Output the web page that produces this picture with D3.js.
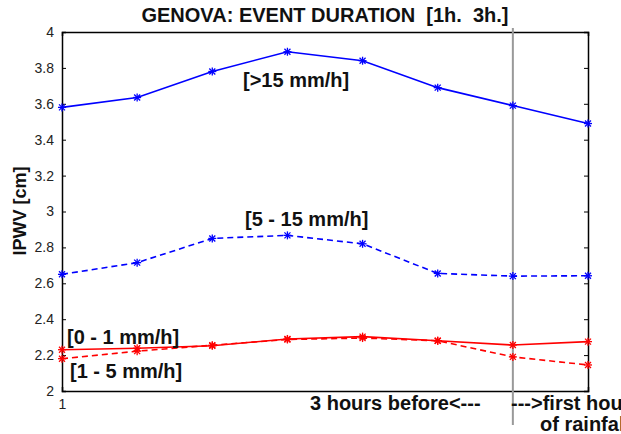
<!DOCTYPE html>
<html>
<head>
<meta charset="utf-8">
<script src="https://cdn.jsdelivr.net/npm/d3@7"></script>
<style>
  body { margin: 0; background: #fff; }
  svg { font-family: "Liberation Sans", Arial, sans-serif; }
  .ann { font-weight: bold; font-size: 20px; fill: #111; white-space: pre; }
  .axis text { font-size: 14px; fill: #222; }
</style>
</head>
<body>
<div id="chart"></div>
<script>
const steps = [1, 2, 3, 4, 5, 6, 7, 8];
const heavy = [3.58, 3.635, 3.78, 3.89, 3.84, 3.69, 3.59, 3.49];      // [>15 mm/h]
const moderate = [2.65, 2.715, 2.85, 2.867, 2.82, 2.655, 2.64, 2.642]; // [5 - 15 mm/h]
const light = [2.23, 2.238, 2.252, 2.29, 2.303, 2.28, 2.256, 2.275];  // [0 - 1 mm/h]
const weak = [2.18, 2.222, 2.255, 2.287, 2.295, 2.28, 2.19, 2.145];   // [1 - 5 mm/h]
const yTicks = [2, 2.2, 2.4, 2.6, 2.8, 3, 3.2, 3.4, 3.6, 3.8, 4];
const xTicks = [1];
const rainStart = 7;

const width = 621, height = 434;
const margin = {top: 32, right: 33, bottom: 43, left: 62};
const w = width - margin.left - margin.right;
const h = height - margin.top - margin.bottom;

const svg = d3.select("#chart").append("svg")
    .attr("width", width)
    .attr("height", height);

const g = svg.append("g")
    .attr("transform", `translate(${margin.left}, ${margin.top})`);

const x = d3.scaleLinear().domain([1, 8]).range([0, w]);
const y = d3.scaleLinear().domain([2, 4]).range([h, 0]);

// box with inward ticks (matlab style)
g.append("g").attr("class", "axis")
    .call(d3.axisLeft(y).tickValues(yTicks).tickSize(-4).tickPadding(8).tickFormat(d3.format("~g")))
    .call(s => s.select(".domain").attr("stroke-width", 1.5));
g.append("g").attr("class", "axis")
    .attr("transform", `translate(${w}, 0)`)
    .call(d3.axisRight(y).tickValues(yTicks).tickSize(-4).tickFormat(""))
    .call(s => s.select(".domain").attr("stroke-width", 1.5));
g.append("g").attr("class", "axis")
    .attr("transform", `translate(0, ${h})`)
    .call(d3.axisBottom(x).tickValues(xTicks).tickSize(-4).tickPadding(8).tickFormat(d3.format("d")))
    .call(s => s.select(".domain").attr("stroke-width", 1.5));
g.append("g").attr("class", "axis")
    .call(d3.axisTop(x).tickValues(xTicks).tickSize(-4).tickFormat(""))
    .call(s => s.select(".domain").attr("stroke-width", 1.5));

// start of rainfall marker
g.append("line")
    .attr("x1", x(rainStart)).attr("x2", x(rainStart))
    .attr("y1", -4).attr("y2", h + 34)
    .attr("stroke", "#999")
    .attr("stroke-width", 2);

const series = [
    {values: heavy, color: "#0000ff", dash: null},
    {values: moderate, color: "#0000ff", dash: "6,4"},
    {values: light, color: "#ff0000", dash: null},
    {values: weak, color: "#ff0000", dash: "6,4"}
];

const line = d3.line()
    .x((d, i) => x(steps[i]))
    .y(d => y(d));

series.forEach(function(s) {
    g.append("path")
        .datum(s.values)
        .attr("d", line)
        .attr("fill", "none")
        .attr("stroke", s.color)
        .attr("stroke-width", 1.6)
        .attr("stroke-dasharray", s.dash);

    // asterisk markers
    const r = 4;
    const mk = g.selectAll(null)
        .data(s.values)
        .enter()
        .append("g")
        .attr("transform", (d, i) => `translate(${x(steps[i])}, ${y(d)})`)
        .attr("stroke", s.color)
        .attr("stroke-width", 1.3);
    mk.append("line").attr("x1", -r).attr("x2", r).attr("y1", 0).attr("y2", 0);
    mk.append("line").attr("x1", 0).attr("x2", 0).attr("y1", -r).attr("y2", r);
    mk.append("line").attr("x1", -r * 0.75).attr("x2", r * 0.75).attr("y1", -r * 0.75).attr("y2", r * 0.75);
    mk.append("line").attr("x1", -r * 0.75).attr("x2", r * 0.75).attr("y1", r * 0.75).attr("y2", -r * 0.75);
});

// title
svg.append("text")
    .attr("class", "ann")
    .attr("x", 325).attr("y", 22)
    .attr("text-anchor", "middle")
    .text("GENOVA: EVENT DURATION  [1h.  3h.]");

// y label
svg.append("text")
    .attr("class", "ann")
    .style("font-size", "18px")
    .attr("transform", "translate(26, 211) rotate(-90)")
    .attr("text-anchor", "middle")
    .text("IPWV [cm]");

// series labels
const labels = [
    {t: "[>15 mm/h]", x: 243, y: 87},
    {t: "[5 - 15 mm/h]", x: 245, y: 226},
    {t: "[0 - 1 mm/h]", x: 67, y: 344},
    {t: "[1 - 5 mm/h]", x: 70, y: 378},
    {t: "3 hours before<---", x: 310, y: 410},
    {t: "--->first hour", x: 511, y: 410},
    {t: "of rainfall", x: 540, y: 431}
];
svg.selectAll(null)
    .data(labels)
    .enter()
    .append("text")
    .attr("class", "ann")
    .attr("x", d => d.x)
    .attr("y", d => d.y)
    .text(d => d.t);
</script>
</body>
</html>
